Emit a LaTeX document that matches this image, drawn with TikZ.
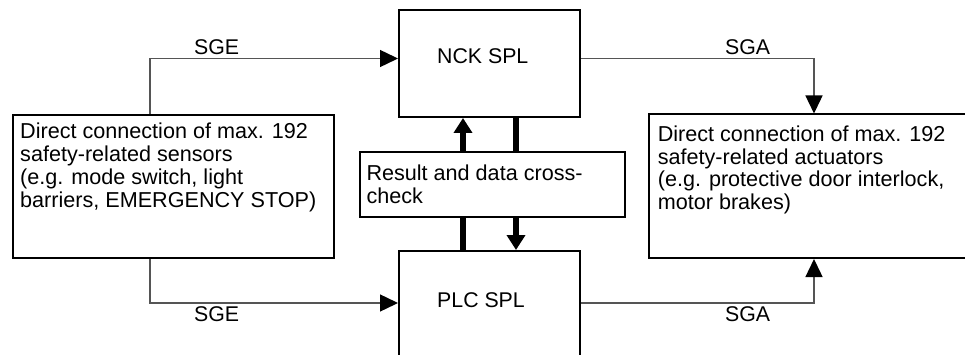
\documentclass[tikz,border=0pt]{standalone}
\usepackage{fontspec}
\setmainfont{Liberation Sans}
\usetikzlibrary{arrows.meta}
\definecolor{conngray}{RGB}{85,85,85}
\tikzset{
  box/.style={draw=black, line width=2pt, fill=white, inner sep=0pt},
  boxtext/.style={inner sep=0pt, anchor=base west, align=left, font=\fontsize{21.6}{22.7}\selectfont},
  lbl/.style={inner sep=0pt, anchor=base west, font=\fontsize{21.3}{22.7}\selectfont},
  conn/.style={draw=conngray, line width=1.4pt, -{Triangle[length=18pt,width=17pt,color=black]}},
  fat/.style={draw=black, line width=6.5pt},
  fatarrow/.style={fat, -{Triangle[length=15pt,width=18pt]}}
}
\begin{document}
\begin{tikzpicture}[x=1pt,y=-1pt]
\useasboundingbox (0,0) rectangle (965,355);
\clip (0,0) rectangle (965,355);
% boxes
\node[box, minimum width=181pt, minimum height=107pt] (nck) at (489.5,63.5) {};
\node[box, minimum width=181pt, minimum height=114pt] (plc) at (489.5,308) {};
\node[box, minimum width=321pt, minimum height=143pt] (left) at (173.5,186.5) {};
\node[box, minimum width=326pt, minimum height=143.5pt] (right) at (812,186.25) {};
% coordinates for routing
\coordinate (sgex) at (150,0);
\coordinate (sgax) at (814,0);
\coordinate (topy) at (0,58.5);
\coordinate (boty) at (0,303);
\coordinate (upx) at (463,0);
\coordinate (dnx) at (516,0);
% thick links
\draw[fatarrow] (plc.north -| upx) -- (nck.south -| upx);
\draw[fatarrow] (nck.south -| dnx) -- (plc.north -| dnx);
\node[box, minimum width=265pt, minimum height=65pt] (mid) at (492.5,184.5) {};
% connectors
\draw[conn] (left.north -| sgex) -- (sgex |- topy) -- (nck.west |- topy);
\draw[conn] (left.south -| sgex) -- (sgex |- boty) -- (plc.west |- boty);
\draw[conn] (nck.east |- topy) -- (sgax |- topy) -- (right.north -| sgax);
\draw[conn] (plc.east |- boty) -- (sgax |- boty) -- (right.south -| sgax);
% texts (base anchor = last line's baseline)
\node[lbl] (tnck) at (437,64) {NCK SPL};
\node[lbl] (tplc) at (437,307) {PLC SPL};
\node[boxtext] (tleft) at (20,207.1) {Direct connection of max. 192\\safety-related sensors\\(e.g. mode switch, light\\barriers, EMERGENCY STOP)};
\node[boxtext] (tright) at (657.6,209.6) {Direct connection of max. 192\\safety-related actuators\\(e.g. protective door interlock,\\motor brakes)};
\node[boxtext] (tmid) at (366.3,203.2) {Result and data cross-\\check};
\node[lbl] (sge1) at (194,55) {SGE};
\node[lbl] (sge2) at (194,321.7) {SGE};
\node[lbl] (sga1) at (725,55) {SGA};
\node[lbl] (sga2) at (725,321.7) {SGA};
\end{tikzpicture}
\end{document}
